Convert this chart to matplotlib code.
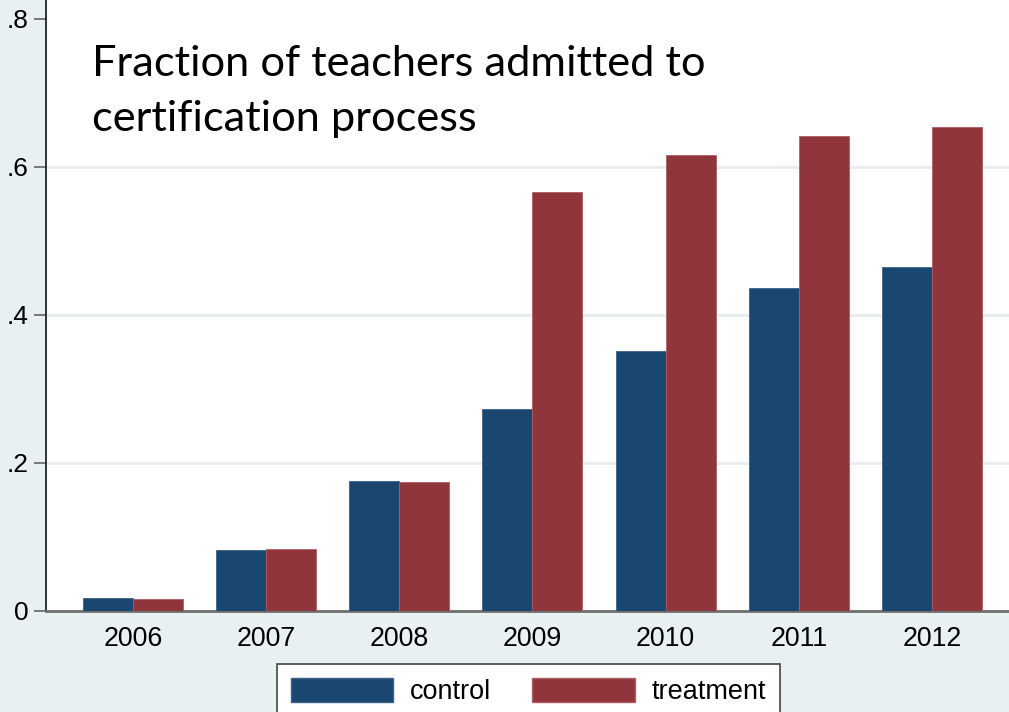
import matplotlib.pyplot as plt
from matplotlib.patches import Patch

years = ["2006", "2007", "2008", "2009", "2010", "2011", "2012"]
control = [0.018, 0.082, 0.176, 0.273, 0.351, 0.436, 0.465]
treatment = [0.016, 0.084, 0.174, 0.566, 0.616, 0.642, 0.654]
y_ticks = [0, 0.2, 0.4, 0.6, 0.8]
y_tick_labels = ["0", ".2", ".4", ".6", ".8"]

navy = "#1a476f"
maroon = "#90353b"
bg = "#e8f0f2"

fig = plt.figure(figsize=(10.09, 7.12), dpi=100)
fig.patch.set_facecolor(bg)
ax = fig.add_axes([46 / 1009, 1 - 611 / 712, 0.9643, 0.83 * 740 / 712])
ax.set_facecolor("white")

x = list(range(len(years)))
w = 0.3755
ax.bar([i - w / 2 for i in x], control, width=w, color=navy, edgecolor="#3d6187", linewidth=0.6, zorder=3)
ax.bar([i + w / 2 for i in x], treatment, width=w, color=maroon, edgecolor="#ad5f64", linewidth=0.6, zorder=3)

ax.set_xlim(-0.653, 6.653)
ax.set_ylim(0, 0.83)
ax.set_yticks(y_ticks)
ax.set_yticklabels(y_tick_labels, fontsize=19, family="Liberation Sans")
ax.set_xticks(x)
ax.set_xticklabels(years, fontsize=19.3, family="Liberation Sans")
ax.tick_params(axis="x", length=0, pad=11)
ax.tick_params(axis="y", length=8.6, width=1.3, color="#6e6e6e", pad=4)
for yt in y_ticks[1:-1]:
    ax.axhline(yt, color="#e6eef0", linewidth=2.2, zorder=1)

for side in ["top", "right"]:
    ax.spines[side].set_visible(False)
ax.spines["left"].set_color("#222222")
ax.spines["left"].set_linewidth(1.3)
ax.spines["bottom"].set_color("#6e6e6e")
ax.spines["bottom"].set_linewidth(2)

fig.text(92 / 1009, 1 - 131 / 712, "Fraction of teachers admitted to\ncertification process",
         fontsize=31.2, family="Lato", color="black", va="baseline", ha="left", linespacing=1.55)

handles = [Patch(facecolor=navy, edgecolor="#3d6187", label="control"),
           Patch(facecolor=maroon, edgecolor="#ad5f64", label="treatment")]
leg = fig.legend(handles=handles, ncol=2, loc="upper center", bbox_to_anchor=(528.5 / 1009, 1 - 664 / 712),
                 prop={"family": "Liberation Sans", "size": 19.5}, frameon=True, fancybox=False,
                 handlelength=3.78, handleheight=1.04, handletextpad=0.63, columnspacing=1.52,
                 borderpad=0.5, borderaxespad=0)
leg.get_frame().set_edgecolor("#444444")
leg.get_frame().set_linewidth(1.2)
leg.get_frame().set_facecolor("white")
leg.get_frame().set_alpha(1)

fig.savefig("out.png", dpi=100, facecolor=bg)
